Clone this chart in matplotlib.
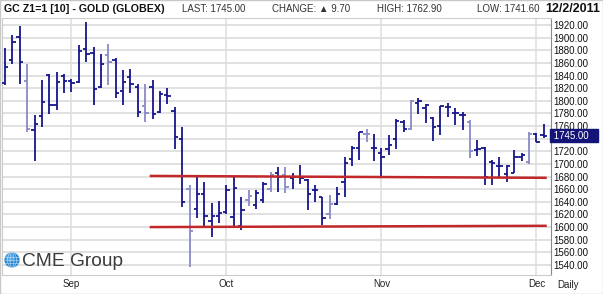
import matplotlib
matplotlib.use("Agg")
import matplotlib.pyplot as plt
import matplotlib.transforms as mtransforms
from matplotlib.patches import Circle, Ellipse, Rectangle
import pandas as pd

# daily bars, GC Z1 (Dec 2011 gold), 19 Aug 2011 .. 2 Dec 2011
opens = [1828, 1864, 1901, 1831, 1753, 1776, 1841, 1793, 1839, 1832,
         1829, 1882, 1876, 1822, 1872, 1864, 1816, 1837, 1822, 1792,
         1822, 1782, 1809, 1784, 1739, 1661, 1629, 1652, 1610, 1618,
         1624, 1616, 1602, 1643, 1635, 1643, 1661, 1685, 1683, 1678,
         1680, 1675, 1659, 1647, 1620, 1636, 1672, 1708, 1726, 1748,
         1726, 1718, 1723, 1739, 1767, 1755, 1797, 1788, 1772, 1760,
         1790, 1781, 1778, 1766, 1722, 1726, 1703, 1696, 1684, 1685,
         1711, 1703, 1747, 1745.5]
highs = [1883, 1904, 1919, 1858, 1777, 1833, 1842, 1846, 1843, 1835,
         1888, 1925, 1885, 1874, 1890, 1867, 1848, 1850, 1826, 1826,
         1833, 1816, 1821, 1790, 1759, 1667, 1679, 1671, 1638, 1642,
         1667, 1680, 1648, 1658, 1659, 1672, 1688, 1695, 1695, 1685,
         1698, 1676, 1667, 1648, 1651, 1663, 1711, 1728, 1751, 1755,
         1748, 1725, 1746, 1771, 1769, 1801, 1805, 1795, 1775, 1792,
         1797, 1788, 1783, 1770, 1738, 1727, 1706, 1711, 1698, 1722,
         1718, 1750, 1749, 1762.9]
lows = [1825, 1858, 1827, 1751, 1704, 1759, 1779, 1785, 1813, 1814,
        1828, 1862, 1793, 1821, 1825, 1804, 1794, 1812, 1775, 1766,
        1771, 1781, 1795, 1723, 1632, 1537, 1615, 1601, 1584, 1607,
        1621, 1598, 1595, 1633, 1628, 1638, 1656, 1656, 1654, 1661,
        1669, 1627, 1640, 1603, 1613, 1635, 1647, 1696, 1707, 1734,
        1705, 1680, 1714, 1723, 1751, 1754, 1779, 1765, 1736, 1746,
        1774, 1761, 1754, 1710, 1712, 1666, 1666, 1677, 1672, 1685,
        1704, 1700, 1734, 1741.6]
closes = [1853, 1893, 1862, 1756, 1763, 1798, 1793, 1830, 1832, 1828,
          1879, 1874, 1819, 1858, 1861, 1813, 1830, 1827, 1782, 1780,
          1779, 1810, 1808, 1742, 1639, 1594, 1652, 1618, 1618, 1623,
          1659, 1662, 1627, 1649, 1654, 1669, 1682, 1679, 1664, 1680,
          1677, 1652, 1658, 1614, 1636, 1652, 1702, 1726, 1750, 1747,
          1725, 1711, 1730, 1768, 1755, 1800, 1800, 1793, 1759, 1791,
          1790, 1781, 1777, 1721, 1723, 1680, 1702, 1696, 1696, 1711,
          1714, 1747, 1735, 1745.0]
light_bars = [3, 14, 19, 25, 33, 36, 38, 44, 49, 55, 63, 71]

holidays = ["2011-09-05", "2011-11-24"]
dates = pd.bdate_range("2011-08-19", "2011-12-02").drop(pd.to_datetime(holidays))

# hand-drawn trend lines (start bar, end bar, start price, end price)
resistance = (19.6, 73.4, 1681, 1678)
support = (19.6, 73.4, 1600, 1602)

y_ticks = list(range(1540, 1921, 20))
last_price = 1745.00

navy = "#16168c"
lavender = "#8a8ac8"
red = "#c0282a"
grid_c = "#dedede"
font = ["Liberation Sans", "DejaVu Sans"]

fig = plt.figure(figsize=(6.03, 2.94), dpi=100)
fig.patch.set_facecolor("white")
ax = fig.add_axes([2 / 603, 19 / 294, 549 / 603, 257 / 294])

x = list(range(len(dates)))
cols = [lavender if i in light_bars else navy for i in x]
ax.vlines(x, lows, highs, colors=cols, lw=1.3, zorder=3)
ax.hlines(opens, [i - 0.45 for i in x], x, colors=cols, lw=1.3, zorder=3)
ax.hlines(closes, x, [i + 0.45 for i in x], colors=cols, lw=1.3, zorder=3)

for x0, x1, p0, p1 in (resistance, support):
    ax.plot([x0, x1], [p0, p1], color=red, lw=1.8, zorder=4, solid_capstyle="butt")

# month grid + labels
month_pos = [i for i in range(1, len(dates)) if dates[i].month != dates[i - 1].month]
month_lab = [dates[i].strftime("%b") for i in month_pos]
for m in month_pos:
    ax.axvline(m, color=grid_c, lw=1.1, zorder=1)
for p in y_ticks:
    ax.axhline(p, color=grid_c, lw=1.3, zorder=1)

ax.set_xlim(-0.41, 73.98)
ax.set_ylim(1524.1, 1931.1)
ax.set_xticks(month_pos)
ax.set_xticklabels(month_lab, family=font, fontsize=7, color="#222222")
ax.yaxis.tick_right()
ax.set_yticks(y_ticks)
# the 1740 label sits under the last-price box
ylabels = ["" if abs(v - last_price) < 10 else "%.2f" % v for v in y_ticks]
ax.set_yticklabels(ylabels, family=font, fontsize=7, color="#111111")
ax.tick_params(length=0, pad=2)
ax.tick_params(axis="x", pad=3)
for s in ["top", "left", "bottom"]:
    ax.spines[s].set_color("#cccccc")
ax.spines["right"].set_color("#8a8a8a")

# last price marker on the axis
trans = mtransforms.blended_transform_factory(ax.transAxes, ax.transData)
ax.text(1.0, last_price, " %.2f   " % last_price, transform=trans, ha="left",
        va="center", family=font, fontsize=7, color="white", zorder=10, clip_on=False,
        bbox=dict(boxstyle="square,pad=0.12", fc="#141478", ec="#141478"))

fig.text(568 / 603, 1 - 285 / 294, "Daily", family=font, fontsize=7,
         color="#222222", ha="center", va="center")

# header
fig.text(4 / 603, 1 - 8.5 / 294, "GC Z1=1 [10] - GOLD (GLOBEX)", family=font,
         fontweight="bold", fontsize=7.7, va="center", ha="left", color="#111111")
hdr = dict(family=font, fontsize=7, va="center", color="#333333")
fig.text(182 / 603, 1 - 8.5 / 294, "LAST: 1745.00", **hdr)
fig.text(272 / 603, 1 - 8.5 / 294, "CHANGE: \u25b2 9.70", **hdr)
fig.text(377 / 603, 1 - 8.5 / 294, "HIGH: 1762.90", **hdr)
fig.text(477 / 603, 1 - 8.5 / 294, "LOW: 1741.60", **hdr)
fig.text(600 / 603, 1 - 8.5 / 294, "12/2/2011", family=font, fontweight="bold",
         fontsize=9, va="center", ha="right", color="#111111")

# CME Group logo
gax = fig.add_axes([4 / 603, (294 - 268) / 294, 16 / 603, 16 / 294])
gax.set_xlim(-1.05, 1.05)
gax.set_ylim(-1.05, 1.05)
gax.set_aspect("equal")
gax.axis("off")
gax.add_patch(Circle((0, 0), 1, fc="#2b86cf", ec="none"))
gax.add_patch(Circle((-0.25, 0.3), 0.55, fc="#5fb2ea", ec="none", alpha=0.7))
for w in (0.5, 1.2):
    gax.add_patch(Ellipse((0, 0), w, 2, fc="none", ec="#bfe2fa", lw=0.4))
for yy in (-0.45, 0, 0.45):
    gax.plot([-0.95, 0.95], [yy, yy], color="#bfe2fa", lw=0.4)
fig.text(22 / 603, 1 - 266.5 / 294, "CME Group", family=font, fontsize=13.8,
         color="#3c3c3c", va="baseline", ha="left")

fig.add_artist(Rectangle((0, 0), 1, 1, transform=fig.transFigure, fill=False,
                         ec="#c8c8c8", lw=1))

fig.savefig("out.png", dpi=100)
